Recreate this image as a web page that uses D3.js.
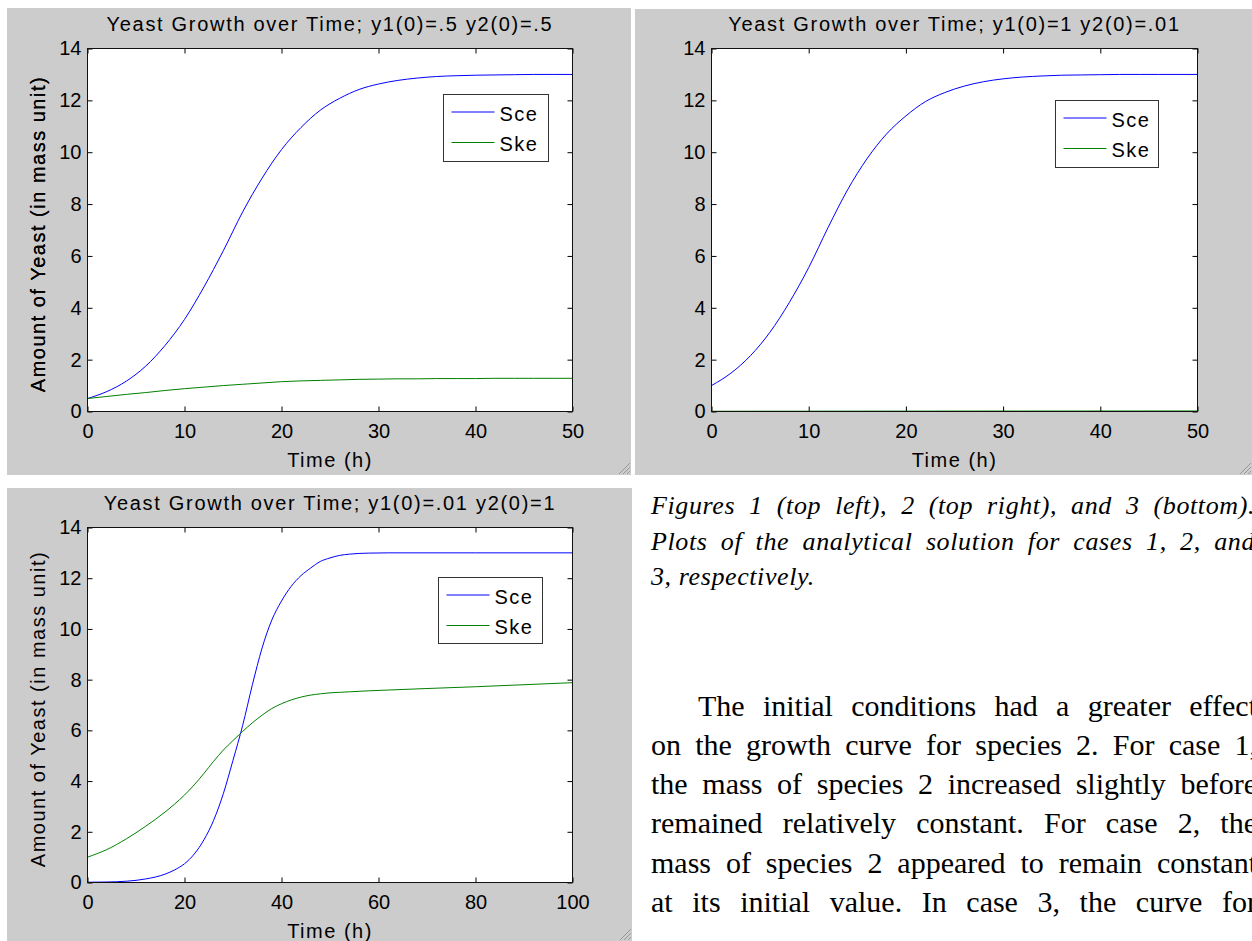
<!DOCTYPE html>
<html>
<head>
<meta charset="utf-8">
<script src="https://cdn.jsdelivr.net/npm/d3@7"></script>
<style>
body { margin: 0; width: 1252px; height: 941px; overflow: hidden; background: #fff; position: relative; }
svg { position: absolute; left: 0; top: 0; }
.txtline { position: absolute; font-family: "Liberation Serif", "Times New Roman", serif; color: #000;
           line-height: 1; text-align: justify; text-align-last: justify; white-space: normal; }
</style>
</head>
<body>
<script>

// chart texts
var titles = ["Yeast Growth over Time; y1(0)=.5 y2(0)=.5",
              "Yeast Growth over Time; y1(0)=1 y2(0)=.01",
              "Yeast Growth over Time; y1(0)=.01 y2(0)=1"];
var xLabel = "Time (h)";
var yLabel = "Amount of Yeast (in mass unit)";
var seriesNames = ["Sce", "Ske"];

// ticks
var yTicks = [0, 2, 4, 6, 8, 10, 12, 14];
var xTicks50 = [0, 10, 20, 30, 40, 50];
var xTicks100 = [0, 20, 40, 60, 80, 100];

// figure 1 : y1(0)=.5 y2(0)=.5
var time1 = [0, 2, 4, 6, 8, 10, 12, 14, 16, 18, 20, 22, 24, 26, 28, 30, 32, 34, 36, 38, 40, 42, 44, 46, 48, 50];
var sce1 = [0.50, 0.77, 1.17, 1.75, 2.55, 3.55, 4.8, 6.2, 7.7, 9.0, 10.1, 10.95, 11.62, 12.08, 12.42, 12.63, 12.77, 12.86, 12.92, 12.95, 12.97, 12.98, 12.99, 13.0, 13.0, 13.0];
var ske1 = [0.50, 0.58, 0.66, 0.73, 0.81, 0.88, 0.94, 1.00, 1.05, 1.10, 1.15, 1.18, 1.20, 1.22, 1.24, 1.25, 1.26, 1.26, 1.27, 1.27, 1.27, 1.28, 1.28, 1.28, 1.28, 1.28];

// figure 2 : y1(0)=1 y2(0)=.01
var time2 = [0, 2, 4, 6, 8, 10, 12, 14, 16, 18, 20, 22, 24, 26, 28, 30, 32, 34, 36, 38, 40, 42, 44, 46, 48, 50];
var sce2 = [1.0, 1.48, 2.15, 3.05, 4.2, 5.55, 7.1, 8.55, 9.75, 10.7, 11.4, 11.95, 12.3, 12.55, 12.72, 12.83, 12.9, 12.94, 12.97, 12.98, 12.99, 13.0, 13.0, 13.0, 13.0, 13.0];
var ske2 = [0.010, 0.010, 0.011, 0.011, 0.012, 0.012, 0.013, 0.013, 0.014, 0.014, 0.015, 0.015, 0.016, 0.016, 0.017, 0.017, 0.017, 0.018, 0.018, 0.018, 0.019, 0.019, 0.019, 0.02, 0.02, 0.02];

// figure 3 : y1(0)=.01 y2(0)=1
var time3 = [0, 4, 8, 12, 16, 18, 20, 22, 24, 26, 28, 30, 32, 34, 36, 38, 40, 42, 44, 46, 48, 50, 52, 54, 58, 62, 70, 80, 90, 100];
var sce3 = [0.01, 0.02, 0.05, 0.14, 0.33, 0.5, 0.74, 1.12, 1.68, 2.45, 3.5, 4.82, 6.2, 7.8, 9.25, 10.35, 11.1, 11.68, 12.1, 12.4, 12.66, 12.8, 12.9, 12.95, 12.99, 13.0, 13.0, 13.0, 13.0, 13.0];
var ske3 = [1.0, 1.3, 1.72, 2.22, 2.78, 3.1, 3.45, 3.85, 4.3, 4.78, 5.22, 5.6, 5.96, 6.3, 6.6, 6.86, 7.05, 7.2, 7.31, 7.39, 7.44, 7.48, 7.5, 7.52, 7.56, 7.59, 7.65, 7.72, 7.8, 7.88];

// the text beside figure 3
var captionLines = ["Figures 1 (top left), 2 (top right), and 3 (bottom).",
                    "Plots of the analytical solution for cases 1, 2, and",
                    "3, respectively."];
var paragraphLines = ["The initial conditions had a greater effect",
                      "on the growth curve for species 2. For case 1,",
                      "the mass of species 2 increased slightly before",
                      "remained relatively constant. For case 2, the",
                      "mass of species 2 appeared to remain constant",
                      "at its initial value. In case 3, the curve for"];

var seriesColors = ["#0000ff", "#008000"];
var sansFont = "'Liberation Sans', Arial, sans-serif";

// where each matlab window sits on the page
var panels = [
    {frame: [7, 8, 624, 467], plot: [87.5, 48.5, 572.5, 411.5], xmax: 50, xticks: xTicks50,
     t: time1, s: [sce1, ske1], title: titles[0], legend: [443.5, 94.5, 105, 67]},
    {frame: [635, 9, 617, 466], plot: [711.5, 48.5, 1197.5, 411.5], xmax: 50, xticks: xTicks50,
     t: time2, s: [sce2, ske2], title: titles[1], legend: [1055.5, 100.5, 103, 67]},
    {frame: [7, 488, 625, 453], plot: [87.5, 527.5, 572.5, 882.5], xmax: 100, xticks: xTicks100,
     t: time3, s: [sce3, ske3], title: titles[2], legend: [438.5, 577.5, 104, 66]}
];

var svg = d3.select("body").append("svg")
    .attr("width", 1252)
    .attr("height", 941);

panels.forEach(function(p, i) {
    var g = svg.append("g");
    var L = p.plot[0], T = p.plot[1], R = p.plot[2], B = p.plot[3];

    // grey figure background
    g.append("rect")
        .attr("x", p.frame[0]).attr("y", p.frame[1])
        .attr("width", p.frame[2]).attr("height", p.frame[3])
        .attr("fill", "#cccccc");

    // little resize grip in the corner
    var fr = p.frame[0] + p.frame[2], fb = p.frame[1] + p.frame[3];
    [0, 4, 8].forEach(function(o) {
        g.append("line")
            .attr("x1", fr - 12 + o).attr("y1", fb - 1)
            .attr("x2", fr - 1).attr("y2", fb - 12 + o)
            .attr("stroke", "#999").attr("stroke-width", 1);
    });

    g.append("rect")
        .attr("x", L).attr("y", T)
        .attr("width", R - L).attr("height", B - T)
        .attr("fill", "#fff");

    var x = d3.scaleLinear().domain([0, p.xmax]).range([L, R]);
    var y = d3.scaleLinear().domain([0, 14]).range([B, T]);

    g.append("clipPath").attr("id", "clip" + i)
        .append("rect")
        .attr("x", L).attr("y", T - 1)
        .attr("width", R - L).attr("height", B - T + 2);

    var line = d3.line()
        .x(function(d) { return x(d[0]); })
        .y(function(d) { return y(d[1]); })
        .curve(d3.curveMonotoneX);

    p.s.forEach(function(vals, k) {
        g.append("path")
            .datum(p.t.map(function(t, j) { return [t, vals[j]]; }))
            .attr("clip-path", "url(#clip" + i + ")")
            .attr("fill", "none")
            .attr("stroke", seriesColors[k])
            .attr("stroke-width", 1)
            .attr("d", line);
    });

    // axes, ticks pointing inside like matlab
    function styleAxis(a) {
        a.select(".domain").remove();
        a.attr("color", "#000")
         .attr("font-family", sansFont)
         .attr("font-size", 20);
    }
    g.append("g")
        .attr("transform", "translate(0," + B + ")")
        .call(d3.axisBottom(x).tickValues(p.xticks).tickSizeInner(-5).tickSizeOuter(0).tickPadding(12))
        .call(styleAxis);
    g.append("g")
        .attr("transform", "translate(" + L + ",0)")
        .call(d3.axisLeft(y).tickValues(yTicks).tickSizeInner(-5).tickSizeOuter(0).tickPadding(6))
        .call(styleAxis);
    g.append("g")
        .attr("transform", "translate(0," + T + ")")
        .call(d3.axisBottom(x).tickValues(p.xticks).tickSize(5).tickFormat(""))
        .call(styleAxis);
    g.append("g")
        .attr("transform", "translate(" + R + ",0)")
        .call(d3.axisLeft(y).tickValues(yTicks).tickSize(5).tickFormat(""))
        .call(styleAxis);

    g.append("rect")
        .attr("x", L).attr("y", T)
        .attr("width", R - L).attr("height", B - T)
        .attr("fill", "none")
        .attr("stroke", "#111")
        .attr("stroke-width", 1);

    // title and axis labels
    g.append("text")
        .attr("x", (L + R) / 2).attr("y", T - 17.5)
        .attr("text-anchor", "middle")
        .style("font-family", sansFont).style("font-size", "20px").style("letter-spacing", "1.7px")
        .text(p.title);
    g.append("text")
        .attr("x", (L + R) / 2).attr("y", B + 55)
        .attr("text-anchor", "middle")
        .style("font-family", sansFont).style("font-size", "20px").style("letter-spacing", "1.5px")
        .text(xLabel);
    g.append("text")
        .attr("transform", "translate(45," + ((T + B) / 2 + 4) + ") rotate(-90)")
        .attr("text-anchor", "middle")
        .style("font-family", sansFont).style("font-size", "20px").style("letter-spacing", "1.5px")
        .text(yLabel);

    // legend
    var lg = p.legend;
    g.append("rect")
        .attr("x", lg[0]).attr("y", lg[1])
        .attr("width", lg[2]).attr("height", lg[3])
        .attr("fill", "#fff").attr("stroke", "#333").attr("stroke-width", 1);
    seriesNames.forEach(function(name, k) {
        var ly = lg[1] + 17.5 + k * 30.5;
        g.append("line")
            .attr("x1", lg[0] + 8).attr("x2", lg[0] + 51)
            .attr("y1", ly).attr("y2", ly)
            .attr("stroke", seriesColors[k]).attr("stroke-width", 1);
        g.append("text")
            .attr("x", lg[0] + 56).attr("y", ly + 8.5)
            .style("font-family", sansFont).style("font-size", "20px").style("letter-spacing", "1.5px")
            .text(name);
    });
});

// caption and body text, one justified line per div
function addLines(lines, opts) {
    lines.forEach(function(s, k) {
        var indent = (k === 0 ? opts.indent : 0);
        var last = opts.lastLeft && k === lines.length - 1;
        d3.select("body").append("div")
            .attr("class", "txtline")
            .style("left", (opts.left + indent) + "px")
            .style("top", (opts.base + k * opts.step - opts.size * 0.8375) + "px")
            .style("width", (opts.width - indent) + "px")
            .style("font-size", opts.size + "px")
            .style("letter-spacing", opts.spacing + "px")
            .style("font-style", opts.italic ? "italic" : "normal")
            .style("text-align-last", last ? "left" : "justify")
            .text(s);
    });
}
addLines(captionLines, {left: 651, base: 515, step: 35.5, size: 26, spacing: 0.6, width: 604, italic: true, indent: 0, lastLeft: true});
addLines(paragraphLines, {left: 651, base: 716, step: 39.2, size: 30, spacing: 0, width: 606, italic: false, indent: 47, lastLeft: false});

</script>
</body>
</html>
